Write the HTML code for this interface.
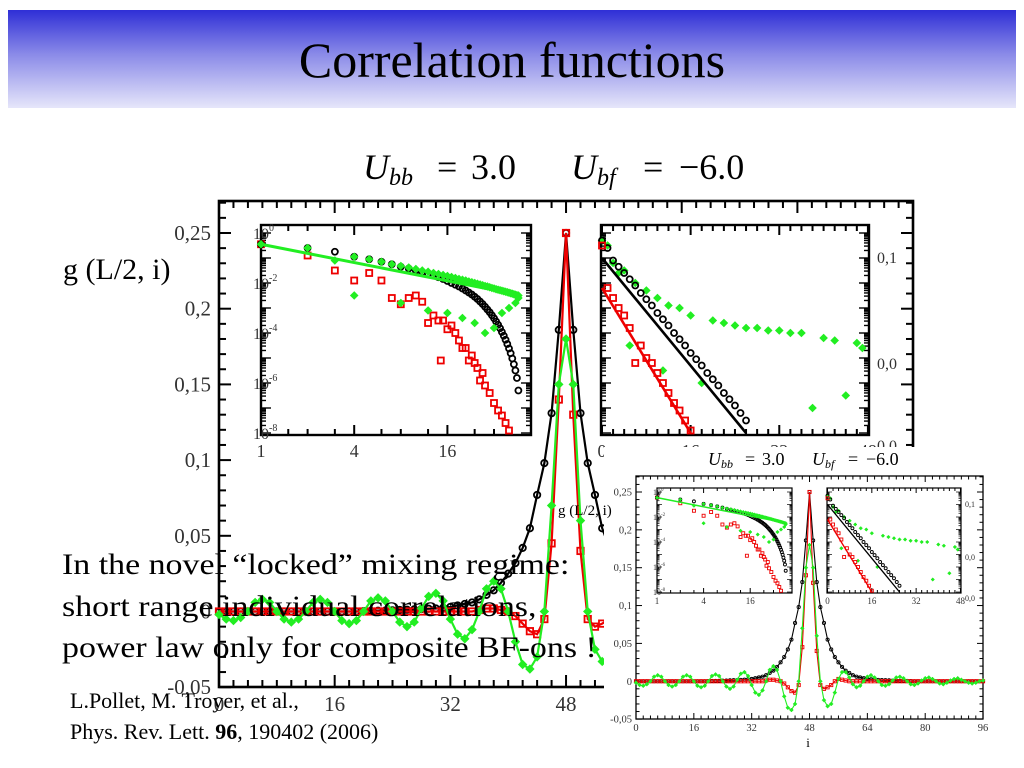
<!DOCTYPE html>
<html><head><meta charset="utf-8"><style>
html,body{margin:0;padding:0;background:#fff;}
body{width:1024px;height:768px;overflow:hidden;position:relative;font-family:"Liberation Serif",serif;}
#band{position:absolute;left:8px;top:10px;width:1008px;height:98px;background:linear-gradient(#2f2fd6,#8a8ae8 45%,#e6e6fa);}
#title{position:absolute;left:0;width:1024px;top:31px;text-align:center;font-size:50px;color:#000;}
.txt{position:absolute;left:62px;font-size:30px;color:#000;white-space:nowrap;transform:scaleX(1.13);transform-origin:0 0;}
.cite{position:absolute;left:70px;font-size:22px;color:#000;white-space:nowrap;}
svg{position:absolute;left:0;top:0;}
</style></head><body>
<div id="band"></div>
<div id="title">Correlation functions</div>
<svg id="svg" width="1024" height="768">
<defs><clipPath id="bigclip"><rect x="40" y="140" width="960" height="575"/></clipPath></defs>
<g id="big" clip-path="url(#bigclip)"><g id="bigInner" transform="translate(-1053,-751) scale(2)"></g></g>
<g id="small"></g>
</svg>
<div class="txt" style="top:548px">In the novel “locked” mixing regime:</div>
<div class="txt" style="top:590px">short range individual correlations,</div>
<div class="txt" style="top:631px">power law only for composite BF-ons !</div>
<div class="cite" style="top:688px">L.Pollet, M. Troyer, et al.,</div>
<div class="cite" style="top:719px">Phys. Rev. Lett. <b>96</b>, 190402 (2006)</div>
<script>
// ---- main chart data (i = 0..96) ----
const mainBlack = [0,0,0,0,0,0,0,0,0,0, 0,0,0,0,0,0,0,0,0,0,
 0.0003,0.0004,0.0005,0.0006,0.0008,0.001,0.0012,0.0014,0.0016,0.0018,
 0.002,0.0025,0.003,0.004,0.005,0.006,0.008,0.011,0.014,0.019,
 0.025,0.032,0.042,0.055,0.077,0.098,0.131,0.186,0.25,
 0.186,0.131,0.098,0.077,0.055,0.042,0.032,0.025,0.019,0.014,0.011,0.008,0.006,0.005,0.004,0.003,0.0025,0.002,
 0.0018,0.0016,0.0014,0.0012,0.001,0.0008,0.0006,0.0005,0.0004,0.0003,
 0,0,0,0,0,0,0,0,0,0, 0,0,0,0,0,0,0,0,0,0];
const mainRed = [0,0,0,0,0,0,0,0,0,0, 0,0,0,0,0,0,0,0,0,0, 0,0,0,0,0,0,0,0,0,0, 0,0,0,0,0,0,
 0.001,0.002,0.002,0.001,0,-0.003,-0.008,-0.013,-0.015,-0.005,0.045,0.14,0.25,0.13,0.04,-0.005,-0.01,-0.008,-0.005,0,0.003,0.002,0.001,
 0,0,0,0,0,0,0,0,0,0, 0,0,0,0,0,0,0,0,0,0, 0,0,0,0,0,0,0,0,0,0, 0,0,0,0,0,0,0,0];
const mainGreen = [-0.002,-0.005,-0.006,-0.004,0,0.006,0.008,0.006,0,-0.005,-0.007,-0.005,0,0.006,0.008,0.006,0,-0.006,-0.008,-0.006,
 0,0.007,0.009,0.007,0,-0.007,-0.01,-0.007,0.002,0.01,0.012,0.007,-0.005,-0.015,-0.018,-0.012,0,0.015,0.02,0.015,
 0,-0.02,-0.035,-0.038,-0.03,0,0.07,0.15,0.18,0.15,0.06,0,-0.025,-0.033,-0.03,-0.015,0.003,0.012,0.012,0.005,
 -0.004,-0.008,-0.006,0,0.006,0.008,0.005,0,-0.005,-0.006,-0.004,0.001,0.005,0.006,0.004,0,-0.004,-0.005,-0.003,0.001,
 0.004,0.005,0.003,0,-0.003,-0.004,-0.002,0.001,0.003,0.004,0.002,0,-0.002,-0.003,-0.002,0,0.001];
const xTicks = [0,16,32,48,64,80,96];
const yTicks = [-0.05,0,0.05,0.1,0.15,0.2,0.25];
const yTickLabels = ["-0,05","0","0,05","0,1","0,15","0,2","0,25"];
// ---- left inset (log-log): r and log10 g ----
const liR = [1,2,3,4,5,6,7,8,9,10,11,12,13,14,15,16,17,18,19,20,21,22,23,24,25,26,27,28,29,30,31,32,33,34,35,36,37,38,39,40,41,42,43,44,45,46];
const liBlack = [-0.45,-0.6,-0.75,-0.95,-1.05,-1.15,-1.25,-1.35,-1.42,-1.5,-1.57,-1.64,-1.7,-1.77,-1.84,-1.92,-2.0,-2.07,-2.14,-2.22,-2.3,-2.38,-2.46,-2.55,-2.64,-2.74,-2.84,-2.95,-3.06,-3.17,-3.29,-3.41,-3.54,-3.67,-3.81,-3.96,-4.11,-4.27,-4.44,-4.62,-4.81,-5.02,-5.25,-5.5,-5.8,-6.3];
const liGreenUp = [-0.45,-0.6,-1.1,-0.95,-1.05,-1.15,-1.25,-1.32,-1.38,-1.44,-1.5,-1.55,-1.6,-1.64,-1.68,-1.72,-1.76,-1.8,-1.84,-1.87,-1.9,-1.94,-1.97,-2.0,-2.03,-2.06,-2.09,-2.12,-2.14,-2.17,-2.2,-2.22,-2.25,-2.27,-2.29,-2.31,-2.33,-2.35,-2.37,-2.39,-2.41,-2.43,-2.45,-2.47,-2.49,-2.5];
const liGreenLowR = [4,8,12,16,20,24,28,32,36,40,44,46];
const liGreenLow = [-2.5,-2.8,-3.1,-3.2,-3.4,-3.6,-4.0,-3.8,-3.2,-3.0,-2.8,-2.6];
const liRedR = [1,2,3,4,5,6,7,8,9,10,11,12,13,14,14.5,15,16,17,18,19,20,21,22,23,24,25,26,27,28,30,32,34,36,38,40];
const liRed = [-0.45,-0.9,-1.5,-1.9,-1.6,-1.9,-2.6,-2.85,-2.6,-2.5,-2.75,-3.6,-3.3,-3.5,-5.1,-3.5,-3.85,-3.7,-4.0,-4.3,-4.6,-4.6,-5.1,-4.9,-5.2,-5.4,-5.9,-5.6,-6.1,-6.4,-6.8,-7.1,-7.3,-7.6,-7.9];
const liXTicks = [1,4,16];
const liXTickLabels = ["1","4","16"];
const liYTicks = [0,-2,-4,-6,-8];
// ---- right inset (semi-log) ----
const riBlackR = [0,1,2,3,4,5,6,7,8,9,10,11,12,13,14,15,16,17,18,19,20,21,22,23,24,25,26];
const riBlack = [-0.3,-0.6,-1.1,-1.35,-1.6,-1.85,-2.1,-2.4,-2.65,-2.9,-3.2,-3.45,-3.7,-4.0,-4.25,-4.5,-4.8,-5.05,-5.3,-5.6,-5.85,-6.1,-6.4,-6.65,-6.9,-7.2,-7.5];
const riRedR = [0,1,2,3,4,5,6,7,8,9,10,11,12,13,14,15,16];
const riRed = [-0.5,-2.2,-2.6,-3.0,-3.3,-3.8,-5.2,-4.5,-5.0,-5.2,-5.6,-6.0,-6.4,-6.8,-7.1,-7.5,-7.9];
const riGreenR = [0,1,2,3,4,5,6,8,10,11,12,14,16,18,20,22,24,26,28,30,32,34,36,38,40,42,44,46,47];
const riGreen = [-0.3,-0.5,-1.2,-1.6,-1.5,-4.5,-2.0,-2.3,-2.6,-5.5,-2.9,-3.0,-3.3,-6.0,-3.5,-3.6,-3.7,-3.8,-3.8,-3.9,-3.9,-4.0,-4.0,-7.0,-4.2,-4.3,-6.5,-4.4,-4.6];
const riXTicks = [0,16,32,48];
const riFitBlack = [[0,-1.0],[26,-8]];
const riFitRed = [[0,-2.2],[16,-8]];
const liFit = [[1,-0.45],[44,-2.45]];

const NS = "http://www.w3.org/2000/svg";
function mk(parent, tag, attrs, text){const e=document.createElementNS(NS,tag);for(const k in attrs)e.setAttribute(k,attrs[k]);if(text!==undefined)e.textContent=text;parent.appendChild(e);return e;}

const MX=i=>636+i*3.615, MY=v=>492+(0.25-v)*757;
const LX=r=>657+Math.log2(r)*23.3, LY=l=>492-l*12.5;
const RX=r=>827.5+r*2.77, RY=l=>492-l*12.5;
const SERIF='Liberation Serif, serif';

function marker(g,x,y,kind,color,s){
  if(kind==='c') return mk(g,'circle',{cx:x,cy:y,r:s,fill:'none',stroke:color,'stroke-width':0.9});
  if(kind==='s') return mk(g,'rect',{x:x-s,y:y-s,width:2*s,height:2*s,fill:'none',stroke:color,'stroke-width':0.9});
  return mk(g,'polygon',{points:`${x},${y-s} ${x+s},${y} ${x},${y+s} ${x-s},${y}`,fill:color,stroke:color,'stroke-width':0.5});
}

function draw(root){
  const bg=mk(root,'rect',{x:604,y:447,width:396,height:303,fill:'#fff'});
  
  
  const f1=mk(root,'text',{x:708,y:465,'font-size':18,'font-style':'italic','font-family':SERIF});
  f1.innerHTML='U<tspan font-size="12" dy="3">bb</tspan><tspan x="745" dy="-3" font-style="normal">=</tspan><tspan x="762" font-style="normal">3.0</tspan>';
  
  
  const f2=mk(root,'text',{x:812,y:465,'font-size':18,'font-style':'italic','font-family':SERIF});
  f2.innerHTML='U<tspan font-size="12" dy="3">bf</tspan><tspan x="848" dy="-3" font-style="normal">=</tspan><tspan x="866" font-style="normal">−6.0</tspan>';
  
  
  const yl=mk(root,'text',{x:558,y:515,'font-size':15,'font-family':SERIF},'g (L/2, i)');
  
  
  const xl=mk(root,'text',{x:808,y:747,'font-size':13,'text-anchor':'middle','font-family':SERIF},'i');
  
  
  const fr=mk(root,'rect',{x:636,y:476,width:347,height:243,fill:'none',stroke:'#000','stroke-width':1.3});
  
  
  for(let i=0;i<=96;i+=2){const L=i%16===0?6:3.5;
    mk(root,'line',{x1:MX(i),x2:MX(i),y1:719,y2:719-L,stroke:'#000','stroke-width':1});
    mk(root,'line',{x1:MX(i),x2:MX(i),y1:476,y2:476+L,stroke:'#000','stroke-width':1});}
  xTicks.forEach(t=>{const e=mk(root,'text',{x:MX(t),y:731,'font-size':10.5,'text-anchor':'middle',fill:'#333','font-family':SERIF},String(t));
    
    });
  for(let k=-5;k<=27;k++){const v=k/100;const L=k%5===0?6:3.5;
    mk(root,'line',{x1:636,x2:636+L,y1:MY(v),y2:MY(v),stroke:'#000','stroke-width':1});
    mk(root,'line',{x1:983,x2:983-L,y1:MY(v),y2:MY(v),stroke:'#000','stroke-width':1});}
  yTicks.forEach((t,j)=>{const e=mk(root,'text',{x:632,y:MY(t)+3.5,'font-size':10.5,'text-anchor':'end',fill:'#333','font-family':SERIF},yTickLabels[j]);
    
    });
  const series=[[mainBlack,'#000','c','black-series'],[mainRed,'#e00','s','red-series'],[mainGreen,'#2e2','d','green-series']];
  series.forEach(([arr,col,kind,name])=>{
    const g=mk(root,'g',{});
    
    
    mk(g,'polyline',{points:arr.map((v,i)=>MX(i)+','+MY(v)).join(' '),fill:'none',stroke:col,'stroke-width':1.1});
    arr.forEach((v,i)=>marker(g,MX(i),MY(v),kind,col,kind==='d'?2:1.6));
  });
  const li=mk(root,'g',{});
  
  
  mk(li,'rect',{x:657,y:488,width:135,height:105,fill:'#fff',stroke:'#000','stroke-width':1.2});
  [1,1.5,2,3,4,6,8,12,16,24,32].forEach(r=>{const L=[1,4,16].includes(r)?5:3;
    mk(li,'line',{x1:LX(r),x2:LX(r),y1:593,y2:593-L,stroke:'#000'});
    mk(li,'line',{x1:LX(r),x2:LX(r),y1:488,y2:488+L,stroke:'#000'});});
  for(let d=0;d>=-8;d--){for(let m=1;m<10;m++){const l=d+Math.log10(m); if(l>0.05)continue;const L=m===1?5:2.5;
    mk(li,'line',{x1:657,x2:657+L,y1:LY(l),y2:LY(l),stroke:'#000','stroke-width':0.7});
    mk(li,'line',{x1:792,x2:792-L,y1:LY(l),y2:LY(l),stroke:'#000','stroke-width':0.7});}}
  liXTicks.forEach((t,j)=>mk(li,'text',{x:LX(t),y:604,'font-size':9,'text-anchor':'middle',fill:'#333','font-family':SERIF},liXTickLabels[j]));
  liYTicks.forEach(t=>{const e=mk(li,'text',{x:653,y:LY(t)+3,'font-size':8,'text-anchor':'start',fill:'#333','font-family':SERIF});e.innerHTML='10<tspan font-size="5" dy="-4">'+t+'</tspan>';});
  liRedR.forEach((r,j)=>marker(li,LX(r),LY(liRed[j]),'s','#e00',1.5));
  liR.forEach((r,j)=>marker(li,LX(r),LY(liBlack[j]),'c','#000',1.5));
  liR.forEach((r,j)=>marker(li,LX(r),LY(liGreenUp[j]),'d','#2e2',1.8));
  liGreenLowR.forEach((r,j)=>marker(li,LX(r),LY(liGreenLow[j]),'d','#2e2',1.8));
  mk(li,'line',{x1:LX(liFit[0][0]),y1:LY(liFit[0][1]),x2:LX(liFit[1][0]),y2:LY(liFit[1][1]),stroke:'#2e2','stroke-width':1.5});
  const ri=mk(root,'g',{});
  
  
  mk(ri,'rect',{x:827,y:488,width:134,height:105,fill:'#fff',stroke:'#000','stroke-width':1.2});
  for(let r=0;r<=48;r+=2){const L=r%16===0?5:3;
    mk(ri,'line',{x1:RX(r),x2:RX(r),y1:593,y2:593-L,stroke:'#000'});
    mk(ri,'line',{x1:RX(r),x2:RX(r),y1:488,y2:488+L,stroke:'#000'});}
  for(let d=0;d>=-8;d--){for(let m=1;m<10;m++){const l=d+Math.log10(m); if(l>0.05)continue;const L=m===1?5:2.5;
    mk(ri,'line',{x1:827,x2:827+L,y1:RY(l),y2:RY(l),stroke:'#000','stroke-width':0.7});
    mk(ri,'line',{x1:961,x2:961-L,y1:RY(l),y2:RY(l),stroke:'#000','stroke-width':0.7});}}
  riXTicks.forEach(t=>mk(ri,'text',{x:RX(t),y:604,'font-size':9,'text-anchor':'middle',fill:'#333','font-family':SERIF},String(t)));
  [['0,1',507],['0,0',560],['0,0',601]].forEach(([s,y])=>mk(ri,'text',{x:965,y:y,'font-size':8,fill:'#333','font-family':SERIF},s));
  riGreenR.forEach((r,j)=>marker(ri,RX(r),RY(riGreen[j]),'d','#2e2',1.8));
  riBlackR.forEach((r,j)=>marker(ri,RX(r),RY(riBlack[j]),'c','#000',1.5));
  riRedR.forEach((r,j)=>marker(ri,RX(r),RY(riRed[j]),'s','#e00',1.5));
  mk(ri,'line',{x1:RX(riFitBlack[0][0]),y1:RY(riFitBlack[0][1]),x2:RX(riFitBlack[1][0]),y2:RY(riFitBlack[1][1]),stroke:'#000','stroke-width':1.3});
  mk(ri,'line',{x1:RX(riFitRed[0][0]),y1:RY(riFitRed[0][1]),x2:RX(riFitRed[1][0]),y2:RY(riFitRed[1][1]),stroke:'#e00','stroke-width':1.3});
}
draw(document.getElementById('bigInner'));
draw(document.getElementById('small'));
</script>
</body></html>
